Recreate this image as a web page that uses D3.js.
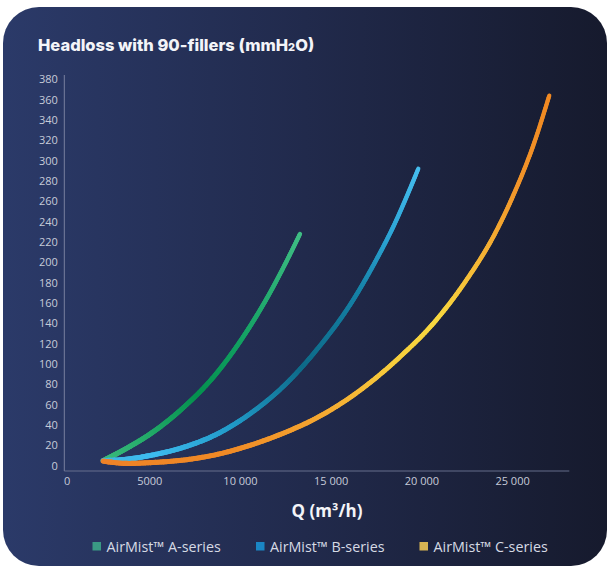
<!DOCTYPE html>
<html><head><meta charset="utf-8">
<script src="https://cdn.jsdelivr.net/npm/d3@7"></script>
<style>
html,body{margin:0;padding:0;background:#ffffff;}
svg{display:block;}
</style></head>
<body>
<svg id="chart" width="607" height="568"></svg>
<script>
// ---- data ----
const seriesNames = ["AirMist™ A-series", "AirMist™ B-series", "AirMist™ C-series"];
const qA = [2460, 3840, 5030, 6870, 8620, 10550, 11650, 12480, 13310];
const hA = [5, 18, 31, 57, 89, 137, 170, 198, 228];
const qB = [2460, 3840, 5030, 6870, 8720, 10550, 12390, 14230, 16060, 17500, 18450, 19830];
const hB = [5, 6.5, 10, 18, 31, 51, 78, 114, 158, 202, 235, 292];
const qC = [2460, 3840, 5030, 6870, 8720, 10550, 12390, 14230, 16060, 16980, 18820, 20660, 22500, 23960, 25070, 26170, 27050];
const hC = [4.5, 2.2, 3, 5.5, 11, 20, 32, 47, 67, 79, 107, 140, 183, 225, 266, 315, 364];
const yTickValues = [0, 20, 40, 60, 80, 100, 120, 140, 160, 180, 200, 220, 240, 260, 280, 300, 320, 340, 360, 380];
const xTickValues = [0, 5000, 10000, 15000, 20000, 25000];
const xTickLabels = ["0", "5000", "10 000", "15 000", "20 000", "25 000"];

// ---- styles ----
const gradStops = [
  {stops:[0,0.15,0.38,0.6,1], colors:['#3cba7e','#27ad6c','#05914f','#12a062','#3fbd84']},
  {stops:[0,0.12,0.3,0.5,0.7,0.85,1], colors:['#40b6e6','#3dbbee','#219ac8','#0e6a88','#1580a5','#2ea6d6','#45bdee']},
  {stops:[0,0.2,0.35,0.5,0.6,0.72,0.85,1], colors:['#ee8228','#f08a26','#f4a530','#f7cd3c','#f8d940','#f5b535','#f2952a','#f18922']}
];
const legendColors = ['#3a9a84', '#1a86c4', '#d8b453'];

const svg = d3.select('#chart');
const defs = svg.append('defs');
const bg = defs.append('linearGradient').attr('id','bg').attr('x1','0').attr('x2','1').attr('y1','0').attr('y2','0');
bg.append('stop').attr('offset','0').attr('stop-color','#2b3a69');
bg.append('stop').attr('offset','0.5').attr('stop-color','#212a4c');
bg.append('stop').attr('offset','1').attr('stop-color','#161a2d');

svg.append('rect').attr('x',3).attr('y',7).attr('width',604).attr('height',559)
  .attr('rx',36).attr('ry',36).attr('fill','url(#bg)');

// title
const title = svg.append('text').attr('x',38).attr('y',51)
  .attr('font-family','Inter, "Noto Sans", sans-serif').attr('font-weight',800)
  .attr('font-size',16.5).attr('fill','#f3f4f8');
title.append('tspan').text('Headloss with 90-fillers (mmH');
title.append('tspan').attr('font-size',11).text('2');
title.append('tspan').text('O)');
const tl = title.node().getComputedTextLength();
if (Math.abs(tl-275) > 2) title.attr('textLength',275).attr('lengthAdjust','spacingAndGlyphs');

// scales
const x = d3.scaleLinear().domain([0, 28000]).range([58.6, 566.5]);
const y = d3.scaleLinear().domain([0, 380]).range([465.7, 79.3]);
const axisX0 = 64.3, axisY0 = 471;

// axes
const yAxis = svg.append('g').attr('transform',`translate(${axisX0},0)`)
  .call(d3.axisLeft(y).tickValues(yTickValues).tickSize(0).tickPadding(6.5));
yAxis.select('.domain').remove();
yAxis.selectAll('text').attr('font-family','"Open Sans", sans-serif').attr('font-size',11).attr('fill','#c6cbd9');

const xAxis = svg.append('g').attr('transform',`translate(0,${axisY0})`)
  .call(d3.axisBottom(x).tickValues(xTickValues).tickSize(0).tickPadding(6)
    .tickFormat((d,i)=>xTickLabels[i]));
xAxis.select('.domain').remove();
xAxis.selectAll('text').attr('font-family','"Open Sans", sans-serif').attr('font-size',11).attr('fill','#c6cbd9');
xAxis.selectAll('.tick').filter(d=>d===0).select('text').attr('dx', 8);

svg.append('line').attr('x1',axisX0).attr('x2',axisX0).attr('y1',75).attr('y2',axisY0)
  .attr('stroke','#8c93ad').attr('stroke-width',1).attr('opacity',0.8);
svg.append('line').attr('x1',axisX0).attr('x2',569.3).attr('y1',axisY0).attr('y2',axisY0)
  .attr('stroke','#6f7793').attr('stroke-width',1.2).attr('opacity',0.9);

// x axis title
svg.append('text').attr('x',327).attr('y',517).attr('text-anchor','middle')
  .attr('font-family','"Open Sans", sans-serif').attr('font-weight',700).attr('font-size',17)
  .attr('fill','#f3f4f8').text('Q (m³/h)');

// curves with gradient along path
const line = d3.line().x(d=>x(d[0])).y(d=>y(d[1])).curve(d3.curveMonotoneX);
const series = [d3.zip(qA,hA), d3.zip(qB,hB), d3.zip(qC,hC)];
series.forEach((pts, si) => {
  const tmp = svg.append('path').attr('d', line(pts)).attr('fill','none').attr('stroke','none');
  const node = tmp.node();
  const L = node.getTotalLength();
  const col = d3.scaleLinear().domain(gradStops[si].stops).range(gradStops[si].colors).interpolate(d3.interpolateRgb);
  const N = 240;
  const g = svg.append('g');
  const samples = d3.range(N+1).map(i => node.getPointAtLength(L*i/N));
  for (let i=0;i<N;i++){
    const t = (i+0.5)/N;
    g.append('line').attr('x1',samples[i].x).attr('y1',samples[i].y)
      .attr('x2',samples[i+1].x).attr('y2',samples[i+1].y)
      .attr('stroke', col(t)).attr('stroke-width', 5.2 - 1.0*t).attr('stroke-linecap','round');
  }
  tmp.remove();
});

// legend
const legX = [92.5, 256, 419.5];
const leg = svg.append('g');
seriesNames.forEach((n,i)=>{
  leg.append('rect').attr('x',legX[i]).attr('y',542).attr('width',8.5).attr('height',8.5).attr('fill',legendColors[i]);
  leg.append('text').attr('x',legX[i]+14).attr('y',551.5)
    .attr('font-family','"Open Sans", sans-serif').attr('font-size',14.3).attr('fill','#d6dae4').text(n);
});
</script>
</body></html>
